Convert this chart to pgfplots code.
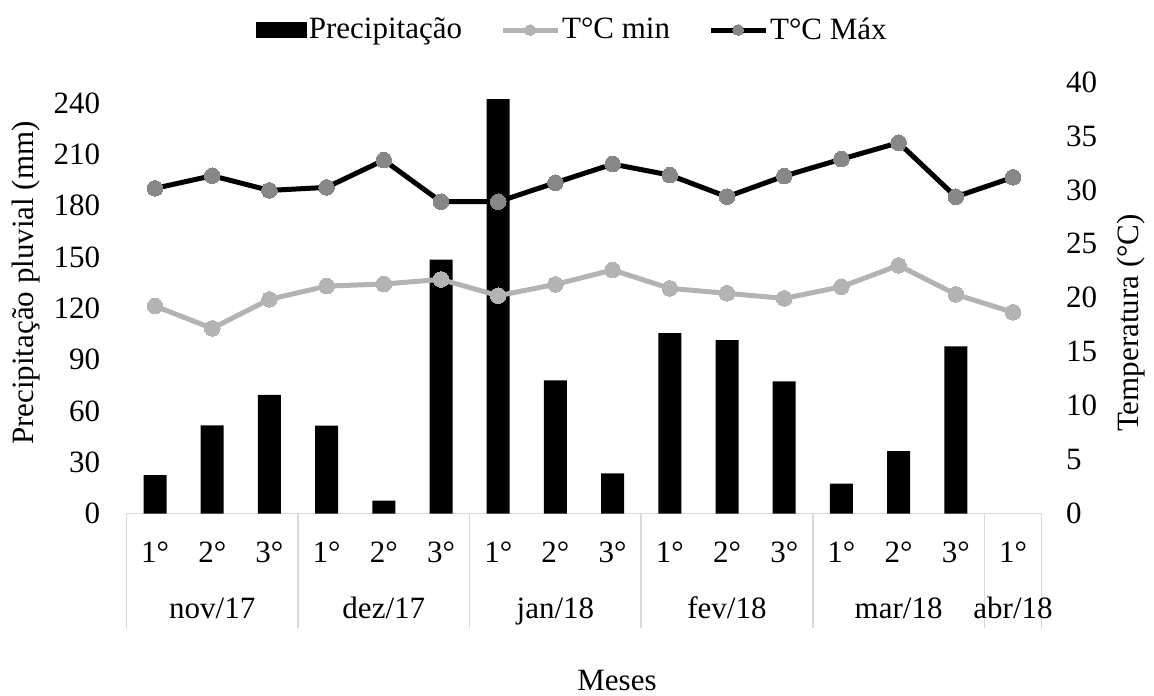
\documentclass[border=0pt]{standalone}
\usepackage{fontspec}
\setmainfont{Liberation Serif}
\usepackage{pgfplots}
\pgfplotsset{compat=1.18}
\definecolor{tmin}{HTML}{B3B3B3}
\definecolor{tmaxm}{HTML}{878787}
\definecolor{sep}{HTML}{D9D9D9}
\pgfplotsset{
  linelegend/.style={legend image code/.code={\draw[##1, mark size=2.7pt, mark repeat=2, mark phase=2] plot coordinates {(0pt,0pt) (13.75pt,0pt) (27.5pt,0pt)};}},
  boxlegend/.style={legend image code/.code={\fill[black] (0pt,-3.75pt) rectangle (25pt,3.75pt);}},
}
\begin{document}
\begin{tikzpicture}[font=\fontsize{15.5}{18}\selectfont]
\begin{axis}[
  at={(0,0)}, anchor=south west,
  scale only axis, width=457.6pt, height=215.75pt,
  xmin=-0.5, xmax=15.5, ymin=0, ymax=252.3,
  axis y line*=left, axis x line*=bottom,
  y axis line style={draw=none},
  x axis line style={draw=sep, line width=0.8pt, -},
  major tick length=0pt,
  ytick={0,30,...,240},
  yticklabel style={anchor=east, inner sep=0pt, xshift=-13pt},
  xtick={0,...,15},
  xticklabels={1°,2°,3°,1°,2°,3°,1°,2°,3°,1°,2°,3°,1°,2°,3°,1°},
  xticklabel style={anchor=center, inner sep=0pt, yshift=-19.25pt},
  /pgf/number format/assume math mode=true,
  clip=false,
]
\addplot[ybar, bar width=11.5pt, fill=black, draw=none] coordinates {
(0,22.5) (1,51.6) (2,69.3) (3,51.4) (4,7.5) (5,148.4) (6,242.3) (7,77.9)
(8,23.5) (9,105.4) (10,101.4) (11,77.3) (12,17.4) (13,36.4) (14,97.7)
};
\draw[sep, line width=0.8pt] (axis cs:-0.5,0) -- ++(0pt,-57.25pt);
\draw[sep, line width=0.8pt] (axis cs:2.5,0) -- ++(0pt,-57.25pt);
\draw[sep, line width=0.8pt] (axis cs:5.5,0) -- ++(0pt,-57.25pt);
\draw[sep, line width=0.8pt] (axis cs:8.5,0) -- ++(0pt,-57.25pt);
\draw[sep, line width=0.8pt] (axis cs:11.5,0) -- ++(0pt,-57.25pt);
\draw[sep, line width=0.8pt] (axis cs:14.5,0) -- ++(0pt,-57.25pt);
\draw[sep, line width=0.8pt] (axis cs:15.5,0) -- ++(0pt,-57.25pt);
\node[anchor=base] at (axis cs:1,0) [yshift=-52.5pt] {nov/17};
\node[anchor=base] at (axis cs:4,0) [yshift=-52.5pt] {dez/17};
\node[anchor=base] at (axis cs:7,0) [yshift=-52.5pt] {jan/18};
\node[anchor=base] at (axis cs:10,0) [yshift=-52.5pt] {fev/18};
\node[anchor=base] at (axis cs:13,0) [yshift=-52.5pt] {mar/18};
\node[anchor=base] at (axis cs:15,0) [yshift=-52.5pt] {abr/18};
\end{axis}
\begin{axis}[
  at={(0,0)}, anchor=south west,
  scale only axis, width=457.6pt, height=215.75pt,
  xmin=-0.5, xmax=15.5, ymin=0, ymax=40,
  axis y line*=right, hide x axis,
  y axis line style={draw=none},
  major tick length=0pt,
  ytick={0,5,...,40},
  yticklabel style={anchor=west, inner sep=0pt, xshift=12pt},
  /pgf/number format/assume math mode=true,
  clip=false,
  legend columns=3,
  legend style={at={(0.4873,1.1205)}, anchor=center, draw=none, fill=none,
    font=\fontsize{15.5}{18}\selectfont,
    /tikz/every even column/.append style={column sep=18pt},
    nodes={inner sep=1pt}},
  legend cell align=left,
]
\addlegendimage{boxlegend}
\addlegendentry{Precipitação}
\addplot[tmin, line width=2.5pt, mark=*, mark size=3.9pt, mark options={fill=tmin, draw=tmin, line width=0pt}, linelegend]
coordinates {
(0,19.23) (1,17.16) (2,19.85) (3,21.08) (4,21.27) (5,21.70) (6,20.19) (7,21.24)
(8,22.57) (9,20.87) (10,20.41) (11,19.94) (12,21.02) (13,23.0) (14,20.31) (15,18.65)
};
\addlegendentry{T°C min}
\addplot[black, line width=2.5pt, mark=*, mark size=3.9pt, mark options={fill=tmaxm, draw=tmaxm, line width=0pt}, linelegend]
coordinates {
(0,30.14) (1,31.31) (2,29.95) (3,30.23) (4,32.76) (5,28.9) (6,28.9) (7,30.66)
(8,32.39) (9,31.37) (10,29.36) (11,31.28) (12,32.85) (13,34.37) (14,29.36) (15,31.16)
};
\addlegendentry{T°C Máx}
\end{axis}
\node[rotate=90] at (-50.4pt,115.25pt) {Precipitação pluvial (mm)};
\node[rotate=90] at (502.3pt,95.25pt) {Temperatura (°C)};
\node[anchor=base, inner sep=0pt] at (245.3pt,-88.3pt) {Meses};
\pgfresetboundingbox
\path (-63.2pt,-90.75pt) rectangle (513.8pt,256.75pt);
\end{tikzpicture}
\end{document}
